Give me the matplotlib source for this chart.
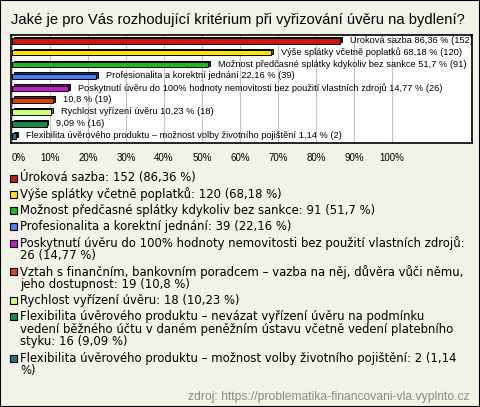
import matplotlib.pyplot as plt
from matplotlib.patches import Rectangle
import matplotlib.colors as mcolors

plt.rcParams['font.family'] = ['Liberation Sans', 'DejaVu Sans']

# data
title = 'Jaké je pro Vás rozhodující kritérium při vyřizování úvěru na bydlení?'
categories = [
    'Úroková sazba',
    'Výše splátky včetně poplatků',
    'Možnost předčasné splátky kdykoliv bez sankce',
    'Profesionalita a korektní jednání',
    'Poskytnutí úvěru do 100% hodnoty nemovitosti bez použití vlastních zdrojů',
    'Vztah s finančním, bankovním poradcem – vazba na něj, důvěra vůči němu, jeho dostupnost',
    'Rychlost vyřízení úvěru',
    'Flexibilita úvěrového produktu – nevázat vyřízení úvěru na podmínku vedení běžného účtu v daném peněžním ústavu včetně vedení platebního styku',
    'Flexibilita úvěrového produktu – možnost volby životního pojištění',
]
counts = [152, 120, 91, 39, 26, 19, 18, 16, 2]
percents = [86.36, 68.18, 51.7, 22.16, 14.77, 10.8, 10.23, 9.09, 1.14]
colors = ['#c41c0c', '#ffe200', '#1fb81f', '#4a7ef0', '#c41cc8',
          '#e4400e', '#ccff77', '#178a4c', '#1a7888']
xticks = [0, 10, 20, 30, 40, 50, 60, 70, 80, 90, 100]
# words in the legend that start a new line (in order)
legend_breaks = [[], [], [], [], ['26'], ['jeho'], [], ['vedení', 'styku:'], ['%)']]
source = 'zdroj: https://problematika-financovani-vla.vyplnto.cz'

W, H = 480, 407
bg = '#f3f2e9'
fig = plt.figure(figsize=(W / 100, H / 100), dpi=100, facecolor=bg)


def fx(x):
    return x / W


def fy(y):
    return 1 - y / H


fig.patches.append(Rectangle((0, 0), 1, 1, transform=fig.transFigure,
                             fill=False, edgecolor='black', lw=1.5))

fig.text(fx(11), fy(20), title, fontsize=10.6, va='center', ha='left')

ax = fig.add_axes([fx(11), fy(143), (472 - 11) / W, (143 - 35) / H])
ax.set_facecolor('white')
ax.set_xlim(-0.26, 121.05)
ax.set_ylim(8.6, -0.5)
for s in ax.spines.values():
    s.set_linewidth(1.2)
for t in xticks:
    ax.axvline(t, color='#c4c4c4', lw=0.8, zorder=0)

fmt = lambda v: str(v).replace('.', ',')
for i, (name, n, p, c) in enumerate(zip(categories, counts, percents, colors)):
    dark = [v * 0.45 for v in mcolors.to_rgb(c)]
    ax.barh(i - 0.12, p, left=0.5, height=0.45, color=dark,
            edgecolor='black', lw=0.7, zorder=2)
    ax.barh(i, p, height=0.45, color=c, edgecolor='black', lw=0.7, zorder=3)
    lab = f'{fmt(p)} % ({n})'
    if len(name) <= 80:
        lab = f'{name} {lab}'
    ax.text(p + 2.6, i - 0.05, lab, fontsize=6.7, va='center', ha='left',
            clip_on=True, zorder=4)

ax.set_yticks([])
ax.set_xticks(xticks)
ax.set_xticklabels([f'{t}%' for t in xticks], fontsize=7)
ax.tick_params(axis='x', length=0, pad=7)
ax.get_xticklabels()[0].set_horizontalalignment('left')

# legend below
fs = 8.4
line_h = 12.4
y = 178
for name, n, p, c, brk in zip(categories, counts, percents, colors, legend_breaks):
    brk = list(brk)
    lines = [[]]
    for w in f'{name}: {n} ({fmt(p)} %)'.split(' '):
        if brk and w == brk[0]:
            brk.pop(0)
            lines.append([])
        lines[-1].append(w)
    fig.patches.append(Rectangle((fx(10), fy(y + 3.5)), 7 / W, 7 / H,
                                 transform=fig.transFigure, facecolor=c,
                                 edgecolor='black', lw=0.8))
    for k, ln in enumerate(lines):
        fig.text(fx(20), fy(y + k * line_h), ' '.join(ln), fontsize=fs,
                 family='DejaVu Sans', va='center', ha='left')
    y += (len(lines) - 1) * line_h + 16.3

fig.text(fx(470), fy(397), source, fontsize=8.7, color='#8a8a8a',
         va='center', ha='right')

fig.savefig('out.png', dpi=100, facecolor=bg)
